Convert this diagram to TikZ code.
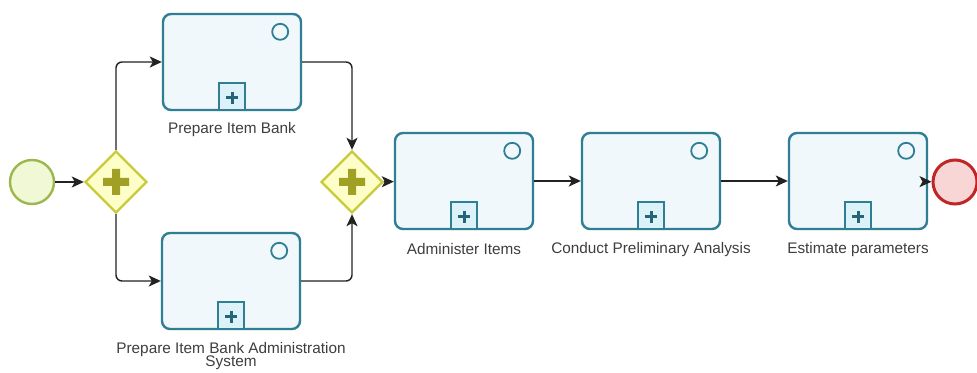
\documentclass[tikz,border=0pt]{standalone}
\usepackage{fontspec}
\setmainfont{Liberation Sans}
\usetikzlibrary{arrows.meta,shapes.geometric}
\definecolor{taskc}{HTML}{2F7F92}
\definecolor{taskfill}{HTML}{F1F8FC}
\definecolor{plusfill}{HTML}{DDF1F8}
\definecolor{gwc}{HTML}{C9CC3A}
\definecolor{gwfill}{HTML}{FEFFC8}
\definecolor{gwplus}{HTML}{9FA024}
\definecolor{startc}{HTML}{9CB84C}
\definecolor{startfill}{HTML}{F1F8D6}
\definecolor{endc}{HTML}{C02626}
\definecolor{endfill}{HTML}{F8D6D6}
\definecolor{labc}{HTML}{3E3E3E}
\definecolor{flowc}{HTML}{222222}
\begin{document}
\begin{tikzpicture}[x=0.75pt,y=-0.75pt,
  task/.style={draw=taskc, line width=2.4*0.75pt, rounded corners=8*0.75pt,
    fill=taskfill, minimum width=138*0.75pt, minimum height=96*0.75pt, inner sep=0pt},
  plusbox/.style={draw=taskc, line width=1.8*0.75pt, fill=plusfill,
    minimum width=26*0.75pt, minimum height=27*0.75pt, inner sep=0pt, anchor=south,
    path picture={\draw[taskc!80!black, line width=3*0.75pt]
      ([yshift=-1*0.75pt]path picture bounding box.center) +(-6*0.75pt,0) -- +(6*0.75pt,0)
      ([yshift=-1*0.75pt]path picture bounding box.center) +(0,-6*0.75pt) -- +(0,6*0.75pt);}},
  cornermark/.style={draw=taskc, line width=1.8*0.75pt, fill=taskfill, circle,
    minimum size=16*0.75pt, inner sep=0pt},
  gw/.style={diamond, aspect=1, draw=gwc, line width=2.4*0.75pt, fill=gwfill,
    minimum width=62*0.75pt, minimum height=62*0.75pt, inner sep=0pt,
    path picture={\fill[gwplus]
      (path picture bounding box.center) +(-13*0.75pt,-4*0.75pt) rectangle +(13*0.75pt,4*0.75pt)
      (path picture bounding box.center) +(-4*0.75pt,-13*0.75pt) rectangle +(4*0.75pt,13*0.75pt);}},
  startev/.style={circle, draw=startc, line width=2.4*0.75pt, fill=startfill,
    minimum size=44*0.75pt, inner sep=0pt},
  endev/.style={circle, draw=endc, line width=3*0.75pt, fill=endfill,
    minimum size=44*0.75pt, inner sep=0pt},
  lab/.style={font=\fontsize{11.5pt}{12pt}\selectfont, text=labc, align=center, inner sep=0pt},
  flow/.style={draw=flowc, line width=1.4*0.75pt, rounded corners=6*0.75pt,
    -{Stealth[length=12*0.75pt,width=11*0.75pt,inset=3*0.75pt]}}
]
\useasboundingbox (0,0) rectangle (977,373);
\fill[white] (0,0) rectangle (977,373);

\node[startev] (s) at (32,182) {};
\node[gw] (g1) at (116,182) {};
\node[task] (t1) at (232,62) {};
\node[task] (t2) at (231,281) {};
\node[gw] (g2) at (352,182) {};
\node[task] (t3) at (464,181) {};
\node[task] (t4) at (651,181) {};
\node[task] (t5) at (858,181) {};
\node[endev] (e) at (955,182) {};

\foreach \t in {t1,t2,t3,t4,t5}{
  \node[plusbox] (\t p) at (\t.south) {};
  \node[cornermark] (\t m) at ([xshift=-22*0.75pt,yshift=-19*0.75pt]\t.north east) {};
}

\node[lab] (l1) at ([yshift=-18*0.75pt]t1.south) {Prepare Item Bank};
\node[lab, anchor=north] (l2) at ([yshift=-12*0.75pt]t2.south) {Prepare Item Bank Administration\\[-2pt]System};
\node[lab] (l3) at ([yshift=-19*0.75pt]t3.south) {Administer Items};
\node[lab] (l4) at ([yshift=-19*0.75pt]t4.south) {Conduct Preliminary Analysis};
\node[lab] (l5) at ([yshift=-19*0.75pt]t5.south) {Estimate parameters};

\draw[flow] (s) -- (g1);
\draw[flow] (g1.north) |- (t1.west);
\draw[flow] (g1.south) |- (t2.west);
\draw[flow] (t1.east) -| (g2.north);
\draw[flow] (t2.east) -| (g2.south);
\draw[flow] (g2) -- (t3);
\draw[flow] (t3) -- (t4);
\draw[flow] (t4) -- (t5);
\draw[flow] (t5) -- (e);
\end{tikzpicture}
\end{document}
